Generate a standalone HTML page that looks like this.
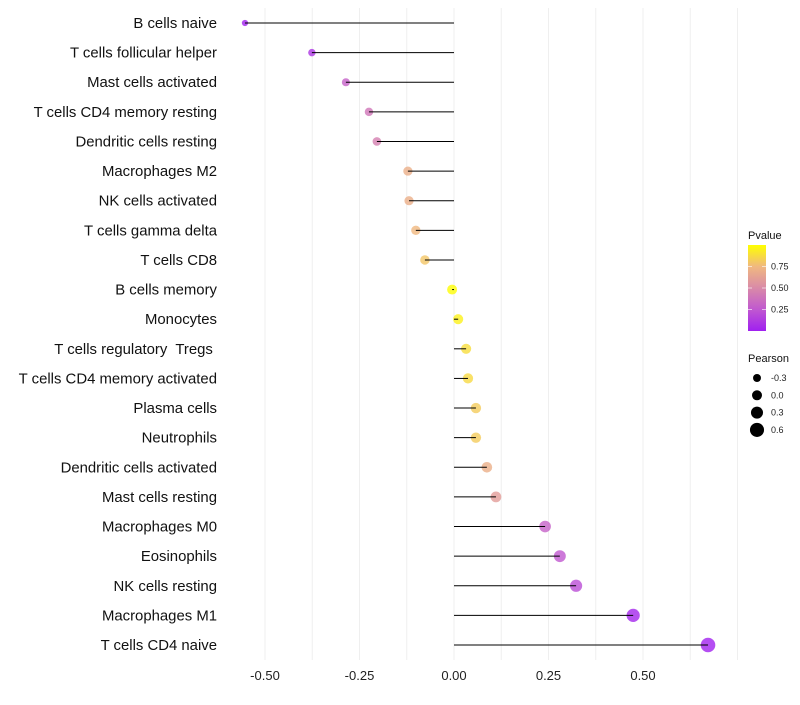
<!DOCTYPE html>
<html><head><meta charset="utf-8"><style>
body{margin:0;background:#fff}
svg{font-family:"Liberation Sans",sans-serif}
</style></head><body>
<svg width="800" height="700" id="c"></svg>
<script>
const categories=["B cells naive","T cells follicular helper","Mast cells activated","T cells CD4 memory resting","Dendritic cells resting","Macrophages M2","NK cells activated","T cells gamma delta","T cells CD8","B cells memory","Monocytes","T cells regulatory  Tregs ","T cells CD4 memory activated","Plasma cells","Neutrophils","Dendritic cells activated","Mast cells resting","Macrophages M0","Eosinophils","NK cells resting","Macrophages M1","T cells CD4 naive"];
const pearson=[-0.553,-0.376,-0.286,-0.225,-0.204,-0.122,-0.119,-0.101,-0.077,-0.005,0.011,0.032,0.037,0.058,0.058,0.087,0.111,0.241,0.280,0.323,0.474,0.672];
const pvalue=[0.01,0.1,0.3,0.4,0.45,0.7,0.7,0.75,0.8,0.99,0.95,0.88,0.87,0.82,0.82,0.7,0.6,0.3,0.25,0.2,0.03,0.01];
const xTicks=[-0.5,-0.25,0,0.25,0.5];
const xTickLabels=["-0.50","-0.25","0.00","0.25","0.50"];
const pTicks=[0.25,0.5,0.75];
const pTickLabels=["0.25","0.50","0.75"];
const sizeVals=[-0.3,0,0.3,0.6];
const sizeLabels=["-0.3","0.0","0.3","0.6"];

const NS="http://www.w3.org/2000/svg",svg=document.getElementById('c');
function mk(t,a,p){const e=document.createElementNS(NS,t);for(const k in a)e.setAttribute(k,a[k]);(p||svg).appendChild(e);return e;}
const x=v=>454+v*378;
const y=i=>23+i*(622/(categories.length-1));
const r=v=>5+3.4*v;
const stops=[[0,[160,32,240]],[0.25,[192,88,208]],[0.5,[217,138,168]],[0.75,[240,184,128]],[1,[255,255,0]]];
function col(p){for(let i=1;i<stops.length;i++){if(p<=stops[i][0]){const a=stops[i-1],b=stops[i],t=(p-a[0])/(b[0]-a[0]);return 'rgb('+a[1].map((c,j)=>Math.round(c+(b[1][j]-c)*t)).join(',')+')';}}return 'rgb(255,255,0)';}
for(let g=-0.5;g<=0.751;g+=0.125){const l=mk('line',{x1:x(g),x2:x(g),y1:8,y2:660,stroke:'#efefef','stroke-width':1});

}
xTicks.forEach((t,i)=>{const e=mk('text',{x:x(t),y:680,'text-anchor':'middle','font-size':13,fill:'#222'});e.textContent=xTickLabels[i];

});
categories.forEach((c,i)=>{
 const t=mk('text',{x:217,y:y(i)+5,'text-anchor':'end','font-size':14.9,fill:'#111',style:'white-space:pre'});t.textContent=c;
 
 
 const d=mk('circle',{cx:x(pearson[i]),cy:y(i),r:r(pearson[i]),fill:col(pvalue[i]),opacity:0.8});
 
 
 const s=mk('line',{x1:x(0),x2:x(pearson[i]),y1:y(i),y2:y(i),stroke:'#000','stroke-width':1});
 
 
});
const lt=mk('text',{x:748,y:239,'font-size':11,fill:'#111'});lt.textContent='Pvalue';


const defs=mk('defs',{});const lg=mk('linearGradient',{id:'g',x1:0,y1:1,x2:0,y2:0},defs);
stops.forEach(s=>mk('stop',{offset:s[0],'stop-color':'rgb('+s[1].join(',')+')'},lg));
const cb=mk('rect',{x:748,y:245,width:18,height:86,fill:'url(#g)'});


pTicks.forEach((p,i)=>{const yy=331-p*86;mk('line',{x1:748,x2:752,y1:yy,y2:yy,stroke:'#fff','stroke-opacity':0.6});mk('line',{x1:762,x2:766,y1:yy,y2:yy,stroke:'#fff','stroke-opacity':0.6});
const e=mk('text',{x:771,y:yy+3,'font-size':9,fill:'#222'});e.textContent=pTickLabels[i];

});
const st=mk('text',{x:748,y:362,'font-size':11,fill:'#111'});st.textContent='Pearson';


sizeVals.forEach((v,i)=>{const yy=378+i*17.3;const c=mk('circle',{cx:757,cy:yy,r:r(v),fill:'#000'});


const e=mk('text',{x:771,y:yy+3,'font-size':9,fill:'#222'});e.textContent=sizeLabels[i];

});
</script>
</body></html>
